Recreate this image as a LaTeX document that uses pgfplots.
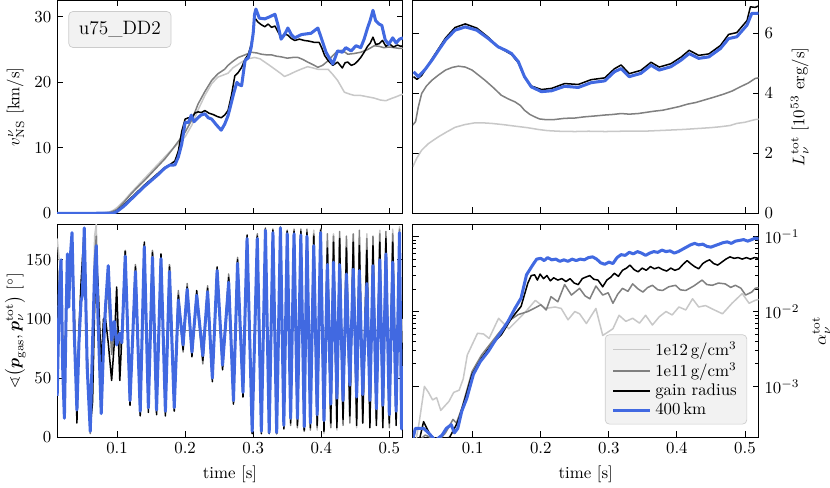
\documentclass[border=0pt]{standalone}
\usepackage{amsmath,amssymb}
\usepackage{pgfplots}
\usepackage{pgfplotstable}
\pgfplotsset{compat=1.18}
\usepgfplotslibrary{groupplots}
\definecolor{lgray}{RGB}{200,200,200}
\definecolor{dgray}{RGB}{128,128,128}
\definecolor{rblue}{RGB}{65,105,225}
\definecolor{boxfill}{RGB}{242,242,242}
\definecolor{boxdraw}{RGB}{204,204,204}
\pgfplotsset{
  legline/.style={legend image code/.code={\draw[##1] (0pt,0pt) -- (22pt,0pt);}},
  thin line/.style={line width=0.9pt, line join=round},
  thick line/.style={line width=1.8pt, line join=round},
  leftlab/.style={ylabel style={at={(axis description cs:#1,0.5)}, anchor=south, inner sep=0pt}},
  rightlab/.style={ylabel style={at={(axis description cs:#1,0.5)}, anchor=north, inner sep=0pt}},
}

% angle between gas momentum and neutrino momentum [deg]
% t, 400km (B), gain radius (K), 1e11 (G), 1e12 (L)
\pgfplotstableread{
t B K G L
0.012 35 110 60 168
0.015 120 95 140 150
0.0177 150 150 150 140
0.020 60 80 70 60
0.0226 16 40 25 30
0.025 100 100 90 100
0.027 155 152 150 155
0.029 110 120 115 125
0.031 150 155 150 150
0.0338 173 160 165 170
0.037 90 110 100 95
0.041 23 12 20 25
0.044 80 90 85 80
0.047 115 130 120 115
0.049 120 150 130 125
0.0518 177 175 177 175
0.056 60 70 65 60
0.0606 5 8 3 5
0.064 80 30 60 80
0.067 140 110 150 170
0.0694 162 150 170 180
0.072 100 130 120 120
0.0767 20 60 40 30
0.080 75 100 90 80
0.083 110 100 115 110
0.087 145 80 120 130
0.092 82 48 70 80
0.096 98 80 95 95
0.0994 78 127 100 85
0.104 88 48 75 85
0.107 80 85 82 80
0.112 153 157 158 150
0.119 31 27 30 35
0.127 140 144 146 140
0.134 22 18 20 25
0.140 161 165 163 160
0.146 25 21 24 28
0.152 152 156 158 150
0.158 23 19 22 26
0.1645 151 155 154 150
0.171 22 18 20 25
0.177 140 144 146 140
0.184 25 22 30 28
0.190 116 120 124 115
0.197 78 74 72 80
0.203 125 127 130 124
0.210 72 68 70 74
0.217 120 124 118 122
0.226 69 65 62 70
0.233 123 126 128 122
0.240 50 47 52 50
0.247 141 144 143 140
0.255 61 57 60 62
0.264 131 135 138 130
0.271 31 28 30 33
0.277 147 150 152 145
0.285 38 34 36 40
0.291 168 171 170 166
0.2985 5 3 4 6
0.306 168 170 172 168
0.312 5 3 5 6
0.318 175 176 177 174
0.3235 4 3 4 5
0.329 173 175 176 172
0.3345 4 3 3 5
0.340 177 177 178 176
0.345 10 7 8 10
0.350 172 174 175 172
0.355 16 12 10 14
0.360 172 174 176 174
0.365 16 10 8 12
0.370 171 174 176 174
0.375 9 6 5 8
0.379 170 173 176 175
0.384 12 8 6 10
0.389 162 170 172 175
0.394 19 10 8 6
0.399 173 175 176 176
0.404 14 5 8 3
0.409 146 160 172 165
0.414 28 12 8 10
0.418 148 165 170 172
0.423 33 8 12 6
0.427 146 168 174 170
0.432 31 15 10 12
0.437 138 160 170 165
0.442 44 18 12 15
0.447 142 165 172 168
0.452 34 10 15 8
0.456 141 162 175 170
0.461 36 12 18 15
0.467 130 158 168 172
0.4715 31 8 12 10
0.476 145 162 170 168
0.481 24 10 14 16
0.486 150 165 172 175
0.4905 27 8 14 12
0.495 155 168 174 170
0.500 19 12 8 18
0.505 148 165 172 176
0.510 22 10 15 20
0.515 173 170 176 178
0.518 7 30 12 40
0.520 60 80 90 100
}\angtab

\begin{document}
\begin{tikzpicture}
\begin{groupplot}[
  group style={group size=2 by 2, horizontal sep=5.9pt, vertical sep=6.5pt,
    xticklabels at=edge bottom},
  scale only axis, width=205.6pt, height=126.6pt,
  xmin=0.012, xmax=0.52,
  xtick={0.1,0.2,0.3,0.4,0.5},
  xticklabel style={/pgf/number format/fixed, /pgf/number format/precision=1},
  xtick pos=both, ytick pos=both,
  tick align=inside, major tick length=3.5pt, minor tick length=2pt,
  every tick/.style={black, line width=0.5pt},
  axis line style={line width=0.6pt},
  legend cell align=left,
]
% ---- top left: kick velocity
\nextgroupplot[ymin=0, ymax=32.5, ytick={0,10,20,30}, leftlab=-0.095,
  ylabel={$v^{\nu}_{\mathrm{NS}}$ [km/s]}]
\addplot[lgray, thin line] coordinates {
(0.012,0) (0.05,0) (0.075,0.05) (0.088,0.2) (0.095,0.5) (0.100,0.9) (0.110,1.9)
(0.120,3.1) (0.130,4.2) (0.140,5.3) (0.150,6.4) (0.160,7.5) (0.170,8.6) (0.180,9.7)
(0.190,10.7) (0.200,11.7) (0.210,13.5) (0.219,15.8) (0.229,18.0) (0.239,19.8)
(0.248,20.8) (0.258,21.2) (0.263,21.4) (0.270,22.2) (0.283,23.1) (0.292,23.6)
(0.302,23.8) (0.310,23.6) (0.317,23.1) (0.324,22.6) (0.332,22.0) (0.340,21.4)
(0.346,20.9) (0.353,21.2) (0.361,21.6) (0.370,22.0) (0.380,22.4) (0.388,22.2)
(0.395,22.0) (0.404,22.0) (0.410,22.0) (0.417,21.2) (0.424,20.3) (0.429,19.4)
(0.434,18.5) (0.442,18.2) (0.449,18.0) (0.458,18.0) (0.468,17.8) (0.478,17.6)
(0.487,17.3) (0.495,17.2) (0.502,17.5) (0.510,17.8) (0.517,18.1) (0.520,18.2)};
\addplot[dgray, thin line] coordinates {
(0.012,0) (0.05,0) (0.08,0.05) (0.090,0.15) (0.100,0.6) (0.110,1.7) (0.120,2.9)
(0.130,4.0) (0.140,5.0) (0.150,6.1) (0.160,7.2) (0.170,8.3) (0.180,9.6) (0.190,11.0)
(0.200,12.4) (0.210,14.3) (0.219,16.7) (0.229,18.6) (0.239,20.3) (0.248,21.3)
(0.258,22.0) (0.263,22.6) (0.270,23.2) (0.278,23.8) (0.288,24.2) (0.297,24.6)
(0.305,24.5) (0.312,24.3) (0.320,24.2) (0.327,24.2) (0.334,24.0) (0.341,23.9)
(0.350,23.7) (0.358,23.8) (0.366,23.8) (0.373,23.5) (0.380,23.1) (0.388,22.7)
(0.395,22.3) (0.402,22.6) (0.410,23.3) (0.417,24.1) (0.424,24.8) (0.431,24.9)
(0.439,24.3) (0.448,24.4) (0.458,24.6) (0.468,25.0) (0.478,25.6) (0.485,25.5)
(0.492,25.3) (0.500,25.4) (0.507,25.3) (0.514,25.2) (0.520,25.2)};
\addplot[black, thin line] coordinates {
(0.012,0) (0.05,0) (0.08,0.05) (0.095,0.1) (0.100,0.4) (0.110,1.3) (0.120,2.3)
(0.130,3.3) (0.140,4.3) (0.150,5.2) (0.160,6.1) (0.170,7.0) (0.177,7.4) (0.185,8.0)
(0.190,9.5) (0.195,12.5) (0.200,14.4) (0.205,14.6) (0.210,14.5) (0.214,15.3)
(0.219,15.5) (0.224,15.4) (0.229,15.7) (0.235,15.3) (0.241,15.1) (0.247,14.8)
(0.253,14.6) (0.258,15.0) (0.263,15.7) (0.268,18.0) (0.273,21.0) (0.278,21.5)
(0.283,22.3) (0.288,23.5) (0.293,24.3) (0.297,25.8) (0.300,27.5) (0.302,29.9)
(0.307,29.2) (0.312,28.8) (0.317,28.5) (0.322,28.9) (0.327,28.4) (0.332,28.6)
(0.336,27.8) (0.341,26.9) (0.346,27.4) (0.351,27.2) (0.356,26.7) (0.361,26.4)
(0.368,26.6) (0.375,26.4) (0.382,26.3) (0.390,26.1) (0.397,26.1) (0.401,25.2)
(0.405,24.1) (0.411,23.2) (0.417,22.6) (0.424,23.1) (0.431,22.2) (0.435,23.0)
(0.439,23.1) (0.444,22.6) (0.449,22.8) (0.454,23.3) (0.458,23.8) (0.463,24.6)
(0.468,25.5) (0.472,26.0) (0.476,26.9) (0.480,25.8) (0.485,25.9) (0.490,26.4)
(0.495,25.5) (0.500,25.9) (0.506,25.4) (0.512,25.7) (0.517,25.5) (0.520,25.6)};
\addplot[rblue, thick line] coordinates {
(0.012,0) (0.05,0) (0.08,0.03) (0.095,0.05) (0.100,0.3) (0.110,1.1) (0.120,2.1)
(0.130,3.1) (0.140,4.1) (0.150,5.0) (0.160,5.9) (0.170,6.9) (0.177,7.35) (0.185,7.4)
(0.190,8.6) (0.195,10.6) (0.200,13.9) (0.205,13.9) (0.209,15.0) (0.213,14.0)
(0.217,14.4) (0.223,15.0) (0.229,15.2) (0.234,14.6) (0.239,14.4) (0.246,13.5)
(0.253,12.7) (0.258,13.6) (0.263,14.9) (0.267,16.5) (0.271,18.2) (0.276,20.0)
(0.280,19.6) (0.283,19.5) (0.288,23.3) (0.293,23.8) (0.297,25.3) (0.300,27.5)
(0.302,30.4) (0.304,31.2) (0.309,29.8) (0.317,29.7) (0.324,30.0) (0.332,30.4)
(0.336,28.9) (0.341,26.6) (0.346,27.3) (0.351,28.3) (0.356,27.3) (0.361,26.8)
(0.371,27.3) (0.385,27.5) (0.395,28.3) (0.400,26.8) (0.407,24.6) (0.417,22.8)
(0.424,24.8) (0.431,24.6) (0.436,25.3) (0.444,24.8) (0.451,25.6) (0.458,25.3)
(0.463,26.6) (0.468,28.3) (0.472,29.5) (0.476,31.0) (0.480,29.4) (0.485,28.9)
(0.489,28.7) (0.494,26.5) (0.499,25.8) (0.505,26.8) (0.510,26.0) (0.515,26.6)
(0.520,26.8)};
\node[anchor=north west, fill=boxfill, draw=boxdraw, rounded corners=2.5pt,
  inner xsep=6pt, inner ysep=6pt, font=\fontsize{11.5}{14}\selectfont]
  at (rel axis cs:0.0325,0.95) {u75\_DD2};
% ---- top right: total luminosity
\nextgroupplot[ymin=0, ymax=7.1, ytick={0,2,4,6}, yticklabel pos=right,
  rightlab=1.092,
  ylabel={$L^{\mathrm{tot}}_{\nu}$ [$10^{53}$ erg/s]}]
\addplot[lgray, thin line] coordinates {
(0.012,1.55) (0.013,1.61) (0.018,1.85) (0.025,2.11) (0.035,2.33) (0.050,2.56)
(0.062,2.72) (0.074,2.87) (0.088,2.96) (0.103,3.02) (0.115,3.02) (0.128,3.00)
(0.145,2.96) (0.162,2.91) (0.180,2.86) (0.196,2.80) (0.210,2.76) (0.226,2.74)
(0.250,2.73) (0.270,2.74) (0.295,2.73) (0.318,2.74) (0.350,2.74) (0.381,2.77)
(0.410,2.80) (0.430,2.83) (0.450,2.86) (0.464,2.89) (0.478,2.93) (0.488,3.00)
(0.500,3.04) (0.510,3.10) (0.515,3.13) (0.520,3.14)};
\addplot[dgray, thin line] coordinates {
(0.012,2.95) (0.016,3.06) (0.020,3.55) (0.025,4.00) (0.032,4.25) (0.040,4.44)
(0.050,4.62) (0.060,4.78) (0.070,4.87) (0.079,4.91) (0.089,4.88) (0.099,4.78)
(0.108,4.62) (0.118,4.44) (0.130,4.20) (0.142,3.94) (0.152,3.82) (0.162,3.72)
(0.170,3.60) (0.176,3.44) (0.184,3.30) (0.191,3.22) (0.198,3.15) (0.206,3.13)
(0.220,3.13) (0.235,3.17) (0.250,3.18) (0.264,3.22) (0.280,3.25) (0.294,3.28)
(0.306,3.30) (0.318,3.33) (0.330,3.31) (0.343,3.33) (0.355,3.37) (0.367,3.41)
(0.379,3.44) (0.391,3.50) (0.403,3.56) (0.415,3.64) (0.428,3.70) (0.440,3.78)
(0.455,3.88) (0.469,3.98) (0.481,4.08) (0.493,4.22) (0.505,4.35) (0.515,4.50)
(0.520,4.52)};
\addplot[black, thin line] coordinates {
(0.013,4.56) (0.018,4.47) (0.025,4.60) (0.040,5.15) (0.060,5.85) (0.074,6.20)
(0.089,6.32) (0.106,6.18) (0.123,5.87) (0.137,5.56) (0.157,5.30) (0.167,5.02)
(0.176,4.55) (0.186,4.25) (0.201,4.13) (0.216,4.17) (0.235,4.33) (0.255,4.30)
(0.274,4.46) (0.294,4.52) (0.308,4.82) (0.318,4.95) (0.330,4.66) (0.347,4.77)
(0.362,5.04) (0.374,4.88) (0.391,4.99) (0.406,5.21) (0.418,5.44) (0.432,5.27)
(0.447,5.32) (0.464,5.60) (0.476,5.97) (0.488,6.03) (0.503,6.43) (0.508,6.89)
(0.515,6.87) (0.520,6.92)};
\addplot[rblue, thick line] coordinates {
(0.013,4.72) (0.020,4.56) (0.030,4.80) (0.040,5.11) (0.050,5.45) (0.060,5.78)
(0.074,6.11) (0.089,6.22) (0.106,6.11) (0.123,5.83) (0.137,5.56) (0.150,5.42)
(0.157,5.33) (0.167,5.06) (0.176,4.56) (0.186,4.22) (0.201,4.06) (0.216,4.09)
(0.235,4.24) (0.255,4.20) (0.274,4.36) (0.294,4.42) (0.308,4.72) (0.318,4.83)
(0.330,4.56) (0.347,4.67) (0.362,4.94) (0.374,4.78) (0.391,4.89) (0.406,5.11)
(0.418,5.33) (0.432,5.17) (0.447,5.22) (0.464,5.50) (0.476,5.83) (0.488,5.89)
(0.503,6.28) (0.510,6.67) (0.517,6.67) (0.520,6.68)};
% ---- bottom left: angle
\nextgroupplot[ymin=0, ymax=180, ytick={0,50,100,150}, leftlab=-0.09,
  xlabel={time [s]},
  ylabel={$\sphericalangle\bigl(\boldsymbol{p}_{\mathrm{gas}},\boldsymbol{p}^{\mathrm{tot}}_{\nu}\bigr)$ [$^\circ$]}]
\addplot[dgray, line width=0.6pt] coordinates {(0.025,90) (0.52,90)};
\addplot[lgray, thin line] table[x=t, y=L] {\angtab};
\addplot[dgray, thin line] table[x=t, y=G] {\angtab};
\addplot[black, thin line] table[x=t, y=K] {\angtab};
\addplot[rblue, thick line] table[x=t, y=B] {\angtab};
% ---- bottom right: anisotropy parameter
\nextgroupplot[ymode=log, ymin=2.1e-4, ymax=0.146, yticklabel pos=right,
  ytick={1e-3,1e-2,1e-1}, xlabel={time [s]}, rightlab=1.155,
  ylabel={$\alpha^{\mathrm{tot}}_{\nu}$},
  legend style={at={(0.967,0.06)}, anchor=south east, fill=boxfill, draw=boxdraw,
    rounded corners=2.5pt, inner xsep=4pt, inner ysep=2pt, row sep=-1pt},
  legline]
\addplot[lgray, thin line] coordinates {
(0.012,1.26e-4) (0.017,2.0e-4) (0.0215,3.39e-4) (0.029,1.0e-3) (0.035,8.32e-4)
(0.041,6.61e-4) (0.047,7.08e-4) (0.053,4.79e-4) (0.065,6.31e-4) (0.072,8.32e-4)
(0.080,8.91e-4) (0.086,1.26e-3) (0.092,2.63e-3) (0.107,5.13e-3) (0.116,5.01e-3)
(0.124,4.37e-3) (0.138,8.13e-3) (0.153,5.89e-3) (0.163,7.24e-3) (0.178,1.0e-2)
(0.192,1.41e-2) (0.207,1.10e-2) (0.221,1.15e-2) (0.230,1.10e-2) (0.240,7.76e-3)
(0.250,1.0e-2) (0.257,9.33e-3) (0.267,6.92e-3) (0.281,1.10e-2) (0.291,4.79e-3)
(0.296,5.13e-3) (0.306,5.89e-3) (0.315,8.91e-3) (0.325,7.4e-3) (0.335,8.13e-3)
(0.345,7.0e-3) (0.354,8.91e-3) (0.364,6.61e-3) (0.374,8.5e-3) (0.384,1.0e-2)
(0.393,9.0e-3) (0.403,1.15e-2) (0.413,1.05e-2) (0.423,1.48e-2) (0.432,1.15e-2)
(0.442,1.20e-2) (0.455,1.05e-2) (0.467,9.33e-3) (0.481,1.29e-2) (0.496,1.74e-2)
(0.506,1.29e-2) (0.515,1.41e-2) (0.520,1.45e-2)};
\addlegendentry{1e12\,g/cm$^3$}
\addplot[dgray, thin line] coordinates {
(0.012,1.58e-4) (0.03,2.24e-4) (0.05,1.9e-4) (0.060,2.4e-4) (0.071,3.63e-4)
(0.076,3.24e-4) (0.084,5.13e-4) (0.099,1.58e-3) (0.113,2.63e-3) (0.132,4.37e-3)
(0.152,7.41e-3) (0.167,9.12e-3) (0.181,1.0e-2) (0.190,1.1e-2) (0.200,1.23e-2)
(0.208,1.05e-2) (0.215,1.58e-2) (0.225,1.35e-2) (0.235,2.29e-2) (0.245,1.66e-2)
(0.257,2.04e-2) (0.265,1.62e-2) (0.272,1.48e-2) (0.281,2.19e-2) (0.291,1.66e-2)
(0.299,1.78e-2) (0.306,1.29e-2) (0.313,1.70e-2) (0.320,2.04e-2) (0.328,1.86e-2)
(0.335,2.34e-2) (0.343,2.00e-2) (0.350,1.82e-2) (0.357,2.09e-2) (0.364,2.24e-2)
(0.372,1.95e-2) (0.379,1.91e-2) (0.388,2.14e-2) (0.398,2.24e-2) (0.405,1.95e-2)
(0.413,1.91e-2) (0.425,2.20e-2) (0.437,2.63e-2) (0.444,2.29e-2) (0.452,2.24e-2)
(0.461,2.40e-2) (0.471,2.34e-2) (0.479,2.10e-2) (0.486,2.24e-2) (0.494,2.05e-2)
(0.501,1.66e-2) (0.510,1.82e-2) (0.515,2.04e-2) (0.520,2.09e-2)};
\addlegendentry{1e11\,g/cm$^3$}
\addplot[black, thin line] coordinates {
(0.012,1.78e-4) (0.022,2.0e-4) (0.0278,3.39e-4) (0.032,2.82e-4) (0.036,2.4e-4)
(0.045,1.9e-4) (0.066,2.09e-4) (0.076,3.09e-4) (0.080,3.8e-4) (0.0888,6.92e-4)
(0.099,1.45e-3) (0.113,2.4e-3) (0.128,3.63e-3) (0.142,4.9e-3) (0.157,8.13e-3)
(0.171,1.17e-2) (0.181,2.40e-2) (0.186,3.02e-2) (0.191,3.09e-2) (0.195,2.63e-2)
(0.199,3.16e-2) (0.204,2.75e-2) (0.209,3.02e-2) (0.214,2.57e-2) (0.219,2.82e-2)
(0.225,2.63e-2) (0.231,2.75e-2) (0.237,2.51e-2) (0.243,2.75e-2) (0.249,2.40e-2)
(0.255,2.29e-2) (0.261,2.75e-2) (0.266,2.88e-2) (0.272,3.02e-2) (0.278,2.69e-2)
(0.284,2.63e-2) (0.291,2.14e-2) (0.297,2.63e-2) (0.303,2.88e-2) (0.308,3.24e-2)
(0.314,2.95e-2) (0.320,3.55e-2) (0.326,3.80e-2) (0.331,4.17e-2) (0.337,3.63e-2)
(0.343,3.39e-2) (0.349,3.80e-2) (0.355,3.55e-2) (0.361,3.98e-2) (0.367,3.72e-2)
(0.373,3.89e-2) (0.379,3.63e-2) (0.385,3.47e-2) (0.391,3.80e-2) (0.397,3.55e-2)
(0.403,3.72e-2) (0.409,4.27e-2) (0.415,4.79e-2) (0.420,4.37e-2) (0.426,3.98e-2)
(0.432,3.72e-2) (0.438,4.37e-2) (0.443,4.68e-2) (0.448,4.90e-2) (0.454,4.37e-2)
(0.460,4.17e-2) (0.466,4.57e-2) (0.472,5.01e-2) (0.478,5.37e-2) (0.484,5.13e-2)
(0.490,5.25e-2) (0.496,5.01e-2) (0.502,5.25e-2) (0.508,5.01e-2) (0.514,5.25e-2)
(0.520,5.13e-2)};
\addlegendentry{gain radius}
\addplot[rblue, thick line] coordinates {
(0.012,2.0e-4) (0.0157,2.75e-4) (0.0278,2.75e-4) (0.035,2.4e-4) (0.045,1.9e-4)
(0.055,2.24e-4) (0.0611,2.75e-4) (0.0684,3.09e-4) (0.073,2.4e-4) (0.078,2.75e-4)
(0.0839,4.68e-4) (0.0912,6.92e-4) (0.101,1.45e-3) (0.111,2.14e-3) (0.123,2.95e-3)
(0.132,3.98e-3) (0.142,5.37e-3) (0.152,7.41e-3) (0.162,1.10e-2) (0.171,1.51e-2)
(0.179,3.09e-2) (0.188,4.17e-2) (0.194,5.01e-2) (0.200,5.13e-2) (0.205,4.79e-2)
(0.210,5.25e-2) (0.216,4.90e-2) (0.222,5.01e-2) (0.228,4.68e-2) (0.234,4.90e-2)
(0.240,4.68e-2) (0.246,5.01e-2) (0.252,4.79e-2) (0.258,5.01e-2) (0.264,4.90e-2)
(0.270,5.25e-2) (0.276,5.37e-2) (0.282,5.01e-2) (0.288,4.47e-2) (0.294,4.27e-2)
(0.300,4.57e-2) (0.306,4.37e-2) (0.312,5.25e-2) (0.318,5.75e-2) (0.324,5.62e-2)
(0.330,6.17e-2) (0.336,5.89e-2) (0.342,6.31e-2) (0.348,6.03e-2) (0.354,5.62e-2)
(0.360,6.03e-2) (0.366,6.31e-2) (0.372,6.17e-2) (0.378,6.61e-2) (0.384,6.31e-2)
(0.390,6.46e-2) (0.396,6.03e-2) (0.402,6.31e-2) (0.408,6.76e-2) (0.414,7.24e-2)
(0.420,7.76e-2) (0.426,8.13e-2) (0.432,7.76e-2) (0.438,7.94e-2) (0.444,7.41e-2)
(0.450,7.24e-2) (0.456,7.59e-2) (0.462,7.94e-2) (0.468,8.32e-2) (0.474,8.51e-2)
(0.480,8.13e-2) (0.486,8.71e-2) (0.492,8.91e-2) (0.498,9.12e-2) (0.504,8.71e-2)
(0.510,9.12e-2) (0.515,9.55e-2) (0.520,9.33e-2)};
\addlegendentry{400\,km}
\end{groupplot}
\path ([xshift=-3pt]current bounding box.west) circle[radius=0pt];
\end{tikzpicture}
\end{document}
